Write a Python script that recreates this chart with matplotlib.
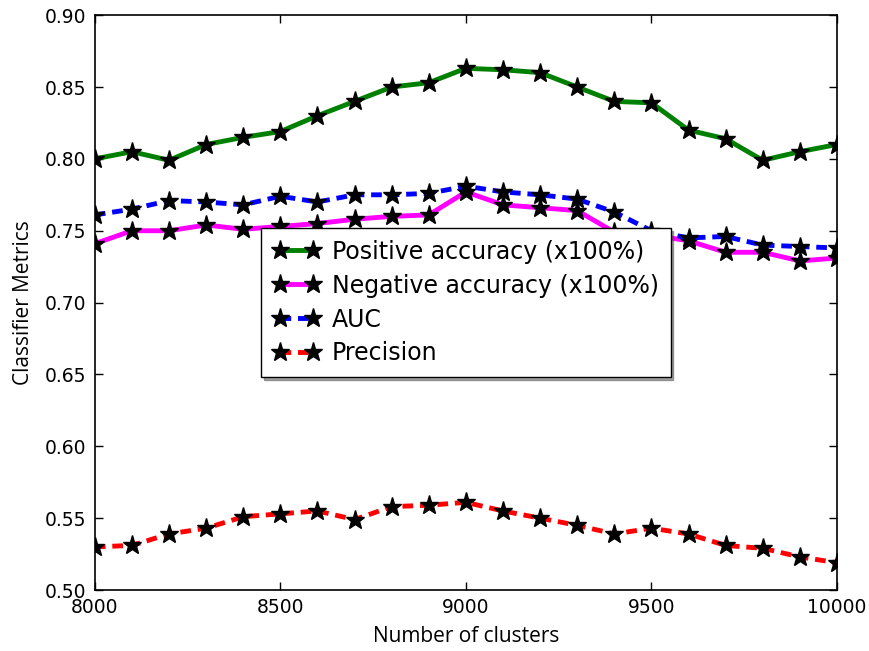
import matplotlib
matplotlib.use("Agg")
import matplotlib.pyplot as plt
import numpy as np

clusters = [8000, 8100, 8200, 8300, 8400, 8500, 8600, 8700, 8800, 8900, 9000,
            9100, 9200, 9300, 9400, 9500, 9600, 9700, 9800, 9900, 10000]
positive_acc = [0.800, 0.805, 0.799, 0.810, 0.815, 0.819, 0.830, 0.840, 0.850, 0.853, 0.863,
                0.862, 0.860, 0.850, 0.840, 0.839, 0.820, 0.814, 0.799, 0.805, 0.810]
negative_acc = [0.741, 0.750, 0.750, 0.754, 0.751, 0.753, 0.755, 0.758, 0.760, 0.761, 0.777,
                0.768, 0.766, 0.764, 0.749, 0.747, 0.743, 0.735, 0.735, 0.729, 0.731]
auc = [0.761, 0.765, 0.771, 0.770, 0.768, 0.774, 0.770, 0.775, 0.775, 0.776, 0.781,
       0.777, 0.775, 0.772, 0.763, 0.750, 0.745, 0.746, 0.740, 0.739, 0.738]
precision = [0.530, 0.531, 0.539, 0.543, 0.551, 0.553, 0.555, 0.549, 0.558, 0.559, 0.561,
             0.555, 0.550, 0.545, 0.539, 0.543, 0.539, 0.531, 0.529, 0.523, 0.519]

labels = ["Positive accuracy (x100%)", "Negative accuracy (x100%)", "AUC", "Precision"]
x_ticks = [8000, 8500, 9000, 9500, 10000]
y_ticks = [0.50, 0.55, 0.60, 0.65, 0.70, 0.75, 0.80, 0.85, 0.90]

fig = plt.figure(figsize=(8.7, 6.51), dpi=100)
ax = fig.add_axes([0.109, 0.0937, 0.853, 0.883])

common = dict(marker='*', markersize=14, markerfacecolor='black', markeredgecolor='black', lw=3.5)
ax.plot(clusters, positive_acc, color='green', label=labels[0], **common)
ax.plot(clusters, negative_acc, color='magenta', label=labels[1], **common)
ax.plot(clusters, auc, color='blue', linestyle='--', dashes=(2.2, 1.4), label=labels[2], **common)
ax.plot(clusters, precision, color='red', linestyle='--', dashes=(2.2, 1.4), label=labels[3], **common)

ax.set_xlim(8000, 10000)
ax.set_ylim(0.50, 0.90)
ax.set_xticks(x_ticks)
ax.set_yticks(y_ticks)
ax.set_yticklabels([f"{v:.2f}" for v in y_ticks])
ax.tick_params(direction='in', top=True, right=True, length=6, width=1, labelsize=13.5, pad=6)
for s in ax.spines.values():
    s.set_color('black')
    s.set_linewidth(1.2)

ax.set_xlabel("Number of clusters", fontsize=15, family=["Open Sans", "DejaVu Sans"], labelpad=6)
ax.set_ylabel("Classifier Metrics", fontsize=15, family=["Open Sans", "DejaVu Sans"], labelpad=8)

leg = ax.legend(loc='center', numpoints=2, fontsize=17, shadow=True, fancybox=False,
                framealpha=1, edgecolor='black', handlelength=2.0, handletextpad=0.5,
                borderpad=0.5, borderaxespad=0.5, labelspacing=0.42)
leg.get_frame().set_linewidth(1.0)
leg.set_zorder(10)

fig.savefig("out.png", dpi=100)
